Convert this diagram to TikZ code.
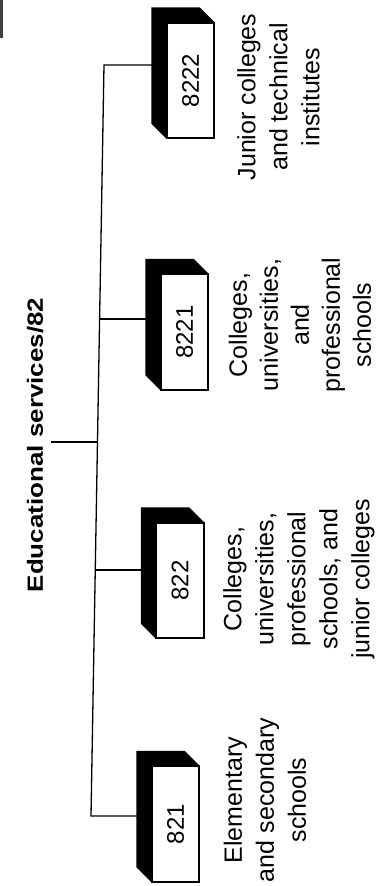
\documentclass[tikz,border=0pt]{standalone}
\usepackage{fontspec}
\setmainfont{Liberation Sans}
\usepackage{graphicx}
\usetikzlibrary{calc}
\begin{document}
\begin{tikzpicture}[x=1pt,y=-1pt,
  face/.style={draw=black, line width=1.3pt, fill=white, minimum width=47pt,
    minimum height=115pt, inner sep=0pt, font=\fontsize{24}{28}\selectfont},
  lab/.style={rotate=90, align=center, font=\fontsize{25}{32}\selectfont, inner sep=0pt},
  ttl/.style={rotate=90, font=\bfseries\fontsize{22}{26}\selectfont, inner sep=0pt},
  wire/.style={line width=1.3pt},
  ext/.style={fill=black}]
\useasboundingbox (0,0) rectangle (379,886);
\fill[black!75] (0,0) rectangle (3,38);

% title
\node[ttl] (title) at (35,445) {\scalebox{1.18}[1]{Educational services/82}};

% boxes
\node[face] (b4) at (190.5,80.5) {\rotatebox{90}{8222}};
\node[face] (b3) at (184.5,332) {\rotatebox{90}{8221}};
\node[face] (b2) at (180,580.5) {\rotatebox{90}{822}};
\node[face] (b1) at (175.5,824) {\rotatebox{90}{821}};
\foreach \b in {b1,b2,b3,b4}{
  \fill[ext] (\b.south west) -- (\b.north west) -- (\b.north east)
    -- ($(\b.north east)+(-15,-15)$) -- ($(\b.north west)+(-15,-15)$)
    -- ($(\b.south west)+(-15,-15)$) -- cycle;
  \draw[line width=1.3pt] (\b.south west) rectangle (\b.north east);
}

% labels
\node[lab] (l4) at (278.5,97) {Junior colleges\\and technical\\institutes};
\node[lab, font=\fontsize{25}{31}\selectfont] (l3) at (300,325) {Colleges,\\universities,\\and\\professional\\schools};
\node[lab] (l2) at (299,579) {Colleges,\\universities,\\professional\\schools, and\\junior colleges};
\node[lab] (l1) at (265,800) {Elementary\\and secondary\\schools};

% connectors
\coordinate (t4) at (104,65);
\coordinate (t3) at (99.6,319);
\coordinate (t0) at (97.5,442);
\coordinate (t2) at (95.3,570);
\coordinate (t1) at (91,816);
\coordinate (e4) at (152,65);
\coordinate (e3) at (146.5,319);
\coordinate (e2) at (142,570);
\coordinate (e1) at (137.5,816);
\coordinate (s0) at (51,442);
\draw[wire] (e4) -- (t4) -- (t1) -- (e1);
\draw[wire] (t3) -- (e3);
\draw[wire] (t2) -- (e2);
\draw[wire] (s0) -- (t0);
\end{tikzpicture}
\end{document}
